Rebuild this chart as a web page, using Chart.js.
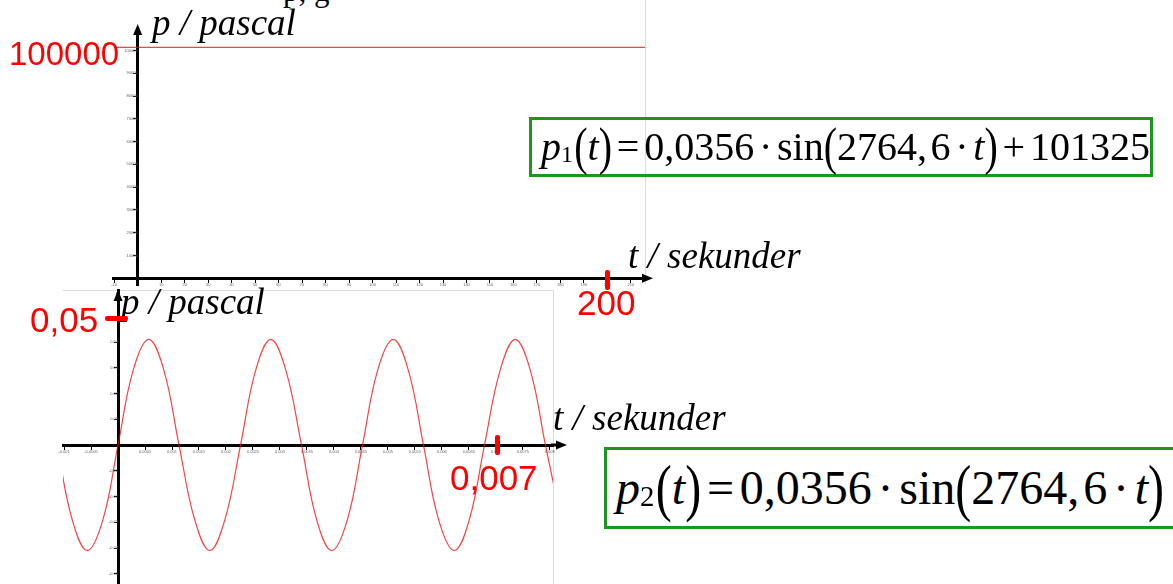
<!DOCTYPE html>
<html>
<head>
<meta charset="utf-8">
<script src="https://cdn.jsdelivr.net/npm/chart.js@4.4.0/dist/chart.umd.min.js"></script>
<style>
    body { margin: 0; width: 1173px; height: 584px; overflow: hidden; background: #fff; position: relative; }
    .wrap { position: absolute; }
    .lbl { position: absolute; font-family: "Liberation Serif", serif; font-style: italic; white-space: nowrap; line-height: 1; color: #000; }
    .red { position: absolute; font-family: "Liberation Sans", sans-serif; color: #f00; white-space: nowrap; line-height: 1; }
    .mark { position: absolute; background: #f00; border-radius: 2px; }
    .formula { position: absolute; border: 3px solid #1c961c; box-sizing: border-box; font-family: "Liberation Serif", serif;
               white-space: nowrap; display: flex; align-items: center; padding-left: 9px; line-height: 1; }
    .formula i { font-style: italic; }
    .sub { font-size: 0.6em; position: relative; top: 0.3em; margin-right: 0.05em; }
    .par { display: inline-block; transform: scaleY(1.3); }
    .op { margin: 0 0.12em; }
</style>
</head>
<body>

<div class="lbl" style="left:283px;top:-25px;font-size:31px;font-style:normal">p, g</div>

<!-- top chart: p1 -->
<div class="wrap" style="left:100px;top:0"><canvas id="topChart" width="570" height="300"></canvas></div>
<!-- bottom chart: p2 -->
<div class="wrap" style="left:40px;top:280px"><canvas id="bottomChart" width="540" height="320"></canvas></div>

<div class="lbl" style="left:152px;top:4px;font-size:37px">p / pascal</div>
<div class="lbl" style="left:628px;top:237px;font-size:37px">t / sekunder</div>
<div class="lbl" style="left:121px;top:283px;font-size:37px">p / pascal</div>
<div class="lbl" style="left:553px;top:399px;font-size:37px">t / sekunder</div>

<div class="red" style="left:9px;top:37px;font-size:33px">100000</div>
<div class="red" style="left:577px;top:285px;font-size:35px">200</div>
<div class="mark" style="left:605px;top:270px;width:5px;height:20px"></div>
<div class="red" style="left:30px;top:302px;font-size:35px">0,05</div>
<div class="mark" style="left:105px;top:316px;width:23px;height:5px"></div>
<div class="red" style="left:450px;top:460px;font-size:35px">0,007</div>
<div class="mark" style="left:495px;top:435px;width:5px;height:20px"></div>

<div class="formula" style="left:529px;top:117px;width:624px;height:60px;font-size:40px">
    <i>p</i><span class="sub">1</span><span class="par">(</span><i>t</i><span class="par">)</span><span class="op">=</span>0,0356<span class="op">·</span>sin<span class="par">(</span>2764,&#8202;6<span class="op">·</span><i>t</i><span class="par">)</span><span class="op">+</span>101325
</div>
<div class="formula" style="left:604px;top:447px;width:575px;height:82px;font-size:48px">
    <i>p</i><span class="sub">2</span><span class="par">(</span><i>t</i><span class="par">)</span><span class="op">=</span>0,0356<span class="op">·</span>sin<span class="par">(</span>2764,&#8202;6<span class="op">·</span><i>t</i><span class="par">)</span>
</div>

<script>
    // ### DATA ###
    // top graph: p1 in pascal, a flat line at atmospheric pressure
    const topTime = [-10, 0, 50, 100, 150, 200, 216];
    const topPressure = [101325, 101325, 101325, 101325, 101325, 101325, 101325];
    const topXTicks = [-10, 0, 10, 20, 30, 40, 50, 60, 70, 80, 90, 100, 110, 120, 130, 140, 150, 160, 170, 180, 190, 200, 210];
    const topYTicks = [10000, 20000, 30000, 40000, 50000, 60000, 70000, 80000, 90000, 100000];

    // bottom graph: p2 in pascal, every 1/8 period
    const bottomTime = [-0.00113, -0.00085, -0.00057, -0.00028, 0, 0.00028, 0.00057, 0.00085,
        0.00113, 0.00142, 0.00170, 0.00198, 0.00227, 0.00255, 0.00283, 0.00311,
        0.00340, 0.00368, 0.00396, 0.00425, 0.00453, 0.00481, 0.00510, 0.00538,
        0.00566, 0.00594, 0.00623, 0.00651, 0.00679, 0.00708, 0.00736, 0.00764,
        0.00792, 0.00821];
    const bottomPressure = [0, -0.029, -0.041, -0.029, 0, 0.029, 0.041, 0.029,
        0, -0.029, -0.041, -0.029, 0, 0.029, 0.041, 0.029,
        0, -0.029, -0.041, -0.029, 0, 0.029, 0.041, 0.029,
        0, -0.029, -0.041, -0.029, 0, 0.029, 0.041, 0.029,
        0, -0.029];
    const bottomXTicks = [-0.001, -0.0005, 0, 0.0005, 0.001, 0.0015, 0.002, 0.0025, 0.003, 0.0035, 0.004,
        0.0045, 0.005, 0.0055, 0.006, 0.0065, 0.007, 0.0075, 0.008];
    const bottomYTicks = [-0.05, -0.04, -0.03, -0.02, -0.01, 0.01, 0.02, 0.03, 0.04];

    // ### AXIS ARROWS + FRAME ###
    const axisArrows = {
        id: 'axisArrows',
        beforeDraw(chart, args, opts) {
            const { ctx, chartArea: a } = chart;
            ctx.save();
            ctx.strokeStyle = '#dcdcdc';
            ctx.lineWidth = 1;
            ctx.beginPath();
            if (opts.frameTop) { ctx.moveTo(a.left, a.top + 0.5); ctx.lineTo(a.right + 0.5, a.top + 0.5); }
            ctx.moveTo(a.right + 0.5, opts.frameTop ? a.top : 0);
            ctx.lineTo(a.right + 0.5, a.bottom);
            ctx.stroke();
            ctx.restore();
        },
        afterDraw(chart, args, opts) {
            const { ctx, chartArea: a, scales } = chart;
            const x0 = scales.x.getPixelForValue(0);
            const y0 = scales.y.getPixelForValue(0);
            const tipX = a.right + opts.xExtra;
            const tipY = a.top - opts.yExtra;
            ctx.save();
            ctx.strokeStyle = '#000';
            ctx.fillStyle = '#000';
            ctx.lineWidth = 3;
            ctx.beginPath();
            ctx.moveTo(a.right - 2, y0); ctx.lineTo(tipX - 6, y0);
            ctx.moveTo(x0, a.top + 2); ctx.lineTo(x0, tipY + 6);
            ctx.stroke();
            ctx.beginPath();
            ctx.moveTo(tipX, y0); ctx.lineTo(tipX - 11, y0 - 4.5); ctx.lineTo(tipX - 11, y0 + 4.5); ctx.closePath();
            ctx.moveTo(x0, tipY); ctx.lineTo(x0 - 4.5, tipY + 11); ctx.lineTo(x0 + 4.5, tipY + 11); ctx.closePath();
            ctx.fill();
            ctx.restore();
        }
    };

    // ### SHARED AXIS OPTIONS ###
    function axisOptions(min, max, tickValues, crossAt) {
        return {
            type: 'linear',
            min: min,
            max: max,
            position: crossAt,
            afterBuildTicks: scale => { scale.ticks = tickValues.map(v => ({ value: v })); },
            grid: { drawOnChartArea: false, drawTicks: true, tickLength: 3, color: '#000', lineWidth: 1 },
            border: { display: true, color: '#000', width: 3 },
            ticks: {
                autoSkip: false,
                maxRotation: 0,
                padding: 1,
                color: '#666',
                font: { family: 'Liberation Sans', size: 4 },
                callback: v => String(v)
            }
        };
    }

    // ### TOP CHART ###
    new Chart(document.getElementById('topChart'), {
        type: 'scatter',
        data: {
            datasets: [{
                data: topTime.map((t, i) => ({ x: t, y: topPressure[i] })),
                showLine: true,
                borderColor: 'rgba(255,0,0,0.75)',
                borderWidth: 1.2,
                pointRadius: 0
            }]
        },
        options: {
            responsive: false,
            animation: false,
            layout: { padding: { left: 13, top: 30, right: 25, bottom: 15 } },
            plugins: {
                legend: { display: false },
                tooltip: { enabled: false },
                axisArrows: { xExtra: 8, yExtra: 6, frameTop: false }
            },
            scales: {
                x: axisOptions(-10.5, 216, topXTicks, { y: 0 }),
                y: axisOptions(-3000, 109000, topYTicks, { x: 0 })
            }
        },
        plugins: [axisArrows]
    });

    // ### BOTTOM CHART ###
    new Chart(document.getElementById('bottomChart'), {
        type: 'scatter',
        data: {
            datasets: [{
                data: bottomTime.map((t, i) => ({ x: t, y: bottomPressure[i] })),
                showLine: true,
                tension: 0.4,
                borderColor: 'rgba(255,0,0,0.75)',
                borderWidth: 1.2,
                pointRadius: 0,
                clip: 0
            }]
        },
        options: {
            responsive: false,
            animation: false,
            layout: { padding: { left: 23, top: 10, right: 27, bottom: 10 } },
            plugins: {
                legend: { display: false },
                tooltip: { enabled: false },
                axisArrows: { xExtra: 14, yExtra: 0, frameTop: true }
            },
            scales: {
                x: axisOptions(-0.00102, 0.00806, bottomXTicks, { y: 0 }),
                y: axisOptions(-0.0563, 0.0602, bottomYTicks, { x: 0 })
            }
        },
        plugins: [axisArrows]
    });
</script>
</body>
</html>
